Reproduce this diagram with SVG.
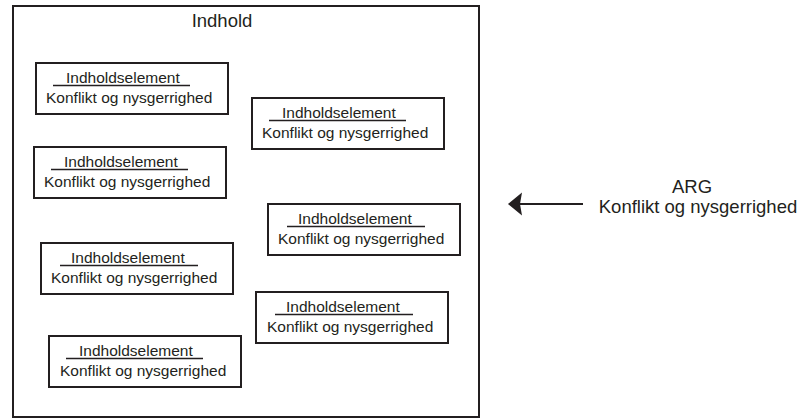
<svg xmlns="http://www.w3.org/2000/svg" width="805" height="420" viewBox="0 0 805 420">
  <defs>
    <style>
      .frame { fill: #ffffff; stroke: #231f20; stroke-width: 2; }
      .box { fill: #ffffff; stroke: #231f20; stroke-width: 2; }
      .rule { stroke: #231f20; stroke-width: 1.6; }
      .txt { font-family: "Liberation Sans", Arial, sans-serif; fill: #231f20; }
      .small { font-size: 15.5px; }
      .big { font-size: 18.5px; }
      .conn { stroke: #231f20; stroke-width: 2; fill: none; }
      .head { fill: #231f20; }
    </style>
  </defs>

  <rect width="805" height="420" fill="#ffffff"/>

  <!-- Container -->
  <g id="indhold">
    <rect class="frame" x="13" y="6" width="466" height="411"/>
    <text class="txt big" x="222" y="27" text-anchor="middle">Indhold</text>
  </g>

  <!-- Content elements -->
  <g id="element-1" transform="translate(35,62)">
    <rect class="box" x="1" y="1" width="192" height="51"/>
    <text class="txt small" x="31" y="21">Indholdselement</text>
    <line class="rule" x1="18" y1="23.5" x2="155" y2="23.5"/>
    <text class="txt small" x="11" y="41">Konflikt og nysgerrighed</text>
  </g>
  <g id="element-2" transform="translate(251,97)">
    <rect class="box" x="1" y="1" width="192" height="51"/>
    <text class="txt small" x="31" y="21">Indholdselement</text>
    <line class="rule" x1="18" y1="23.5" x2="155" y2="23.5"/>
    <text class="txt small" x="11" y="41">Konflikt og nysgerrighed</text>
  </g>
  <g id="element-3" transform="translate(33,146)">
    <rect class="box" x="1" y="1" width="192" height="51"/>
    <text class="txt small" x="31" y="21">Indholdselement</text>
    <line class="rule" x1="18" y1="23.5" x2="155" y2="23.5"/>
    <text class="txt small" x="11" y="41">Konflikt og nysgerrighed</text>
  </g>
  <g id="element-4" transform="translate(267,203)">
    <rect class="box" x="1" y="1" width="192" height="51"/>
    <text class="txt small" x="31" y="21">Indholdselement</text>
    <line class="rule" x1="20" y1="23.5" x2="158" y2="23.5"/>
    <text class="txt small" x="11" y="41">Konflikt og nysgerrighed</text>
  </g>
  <g id="element-5" transform="translate(40,242)">
    <rect class="box" x="1" y="1" width="192" height="51"/>
    <text class="txt small" x="31" y="21">Indholdselement</text>
    <line class="rule" x1="20" y1="23.5" x2="158" y2="23.5"/>
    <text class="txt small" x="11" y="41">Konflikt og nysgerrighed</text>
  </g>
  <g id="element-6" transform="translate(255,291)">
    <rect class="box" x="1" y="1" width="192" height="51"/>
    <text class="txt small" x="31" y="21">Indholdselement</text>
    <line class="rule" x1="20" y1="23.5" x2="158" y2="23.5"/>
    <text class="txt small" x="12" y="41">Konflikt og nysgerrighed</text>
  </g>
  <g id="element-7" transform="translate(48,335)">
    <rect class="box" x="1" y="1" width="192" height="51"/>
    <text class="txt small" x="31" y="21">Indholdselement</text>
    <line class="rule" x1="18" y1="23.5" x2="155" y2="23.5"/>
    <text class="txt small" x="12" y="41">Konflikt og nysgerrighed</text>
  </g>

  <!-- Source label -->
  <g id="arg">
    <text class="txt big" x="692" y="193" text-anchor="middle">ARG</text>
    <text class="txt big" x="698" y="213" text-anchor="middle">Konflikt og nysgerrighed</text>
  </g>

  <!-- Connectors -->
  <g id="connectors">
    <line class="conn" x1="583" y1="204" x2="518" y2="204"/>
    <path class="head" d="M508,204 L522,192.5 L520,204 L522,215.5 Z"/>
  </g>
</svg>
